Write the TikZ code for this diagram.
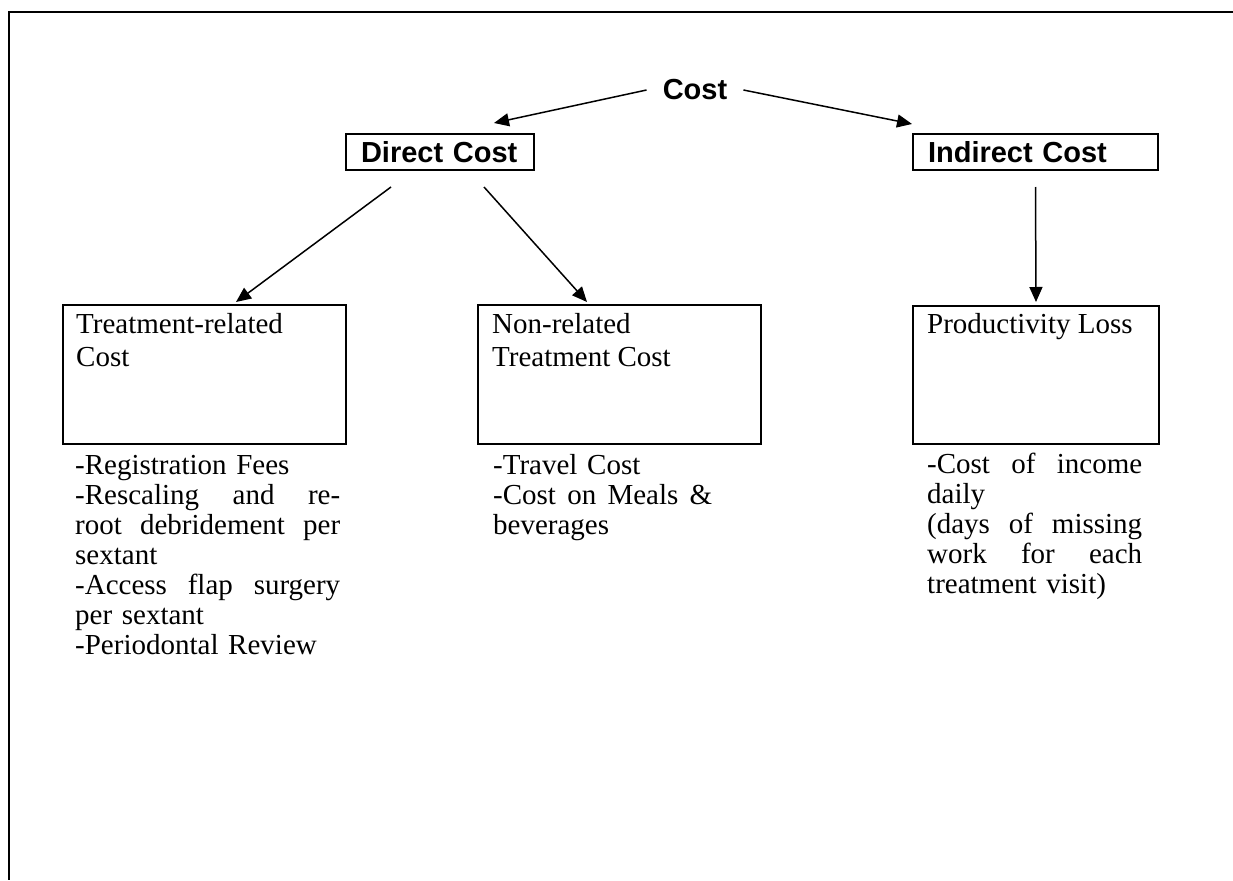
\documentclass[tikz,border=0pt]{standalone}
\usepackage{fontspec}
\setmainfont{Liberation Serif}
\setsansfont{Liberation Sans}
\usetikzlibrary{arrows.meta,calc,positioning}

\tikzset{
  headbox/.style={draw, line width=2pt, minimum height=36pt, inner xsep=15pt, inner ysep=0pt,
    anchor=north west, align=left, font=\sffamily\bfseries\fontsize{29}{33}\selectfont},
  catbox/.style={draw, line width=2pt, anchor=north west, inner sep=0pt},
  boxtext/.style={anchor=north west, inner sep=0pt, align=left, font=\fontsize{29}{33}\selectfont},
  listtext/.style={anchor=north west, inner sep=0pt, align=left, font=\fontsize{29}{30}\selectfont},
  costarrow/.style={line width=1.5pt, -{Triangle[length=15pt,width=13pt]}}
}

\begin{document}
\begin{tikzpicture}[x=1pt,y=-1pt]
  \useasboundingbox (0,0) rectangle (1233,880);

  % frame (top and left side only)
  \draw[line width=2pt] (1233,12) -- (9,12) -- (9,880);

  % top level
  \node[font=\sffamily\bfseries\fontsize{29}{33}\selectfont, inner xsep=16pt] (cost) at (695,90) {Cost};

  % second level
  \node[headbox, text width=158pt] (direct) at (345,133) {Direct Cost};
  \node[headbox, text width=215pt] (indirect) at (912,133) {Indirect Cost};

  % third level boxes
  \node[catbox, minimum width=283pt, minimum height=139pt] (treat) at (62,304) {};
  \node[catbox, minimum width=283pt, minimum height=139pt] (nonrel) at (477,304) {};
  \node[catbox, minimum width=246pt, minimum height=138pt] (prod) at (912,305) {};

  % text inside the boxes
  \node[boxtext] (treattext) at ($(treat.north west)+(14,6)$) {\strut Treatment-related\\Cost};
  \node[boxtext] (nonreltext) at ($(nonrel.north west)+(15,6)$) {\strut Non-related\\Treatment Cost};
  \node[boxtext] (prodtext) at ($(prod.north west)+(15,5)$) {\strut Productivity Loss};

  % items below the boxes
  \node[listtext, text width=265pt] (treatlist) at ($(treat.south west)+(13,8)$) {\strut-Registration Fees\\
    -Rescaling \hfill and \hfill re-\\
    root \hfill debridement \hfill per\\
    sextant\\
    -Access \hfill flap \hfill surgery\\
    per sextant\\
    -Periodontal Review};
  \node[listtext, text width=219pt] (nonrellist) at ($(nonrel.south west)+(16,8)$) {\strut-Travel Cost\\
    -Cost \hfill on \hfill Meals \hfill \&\\
    beverages};
  \node[listtext, text width=215pt] (prodlist) at ($(prod.south west)+(15,7)$) {\strut-Cost \hfill of \hfill income\\
    daily\\
    (days \hfill of \hfill missing\\
    work \hfill for \hfill each\\
    treatment visit)};

  % arrows
  \draw[costarrow] (cost.west) -- ($(direct.north east)+(-41,-10)$);
  \draw[costarrow] (cost.east) -- ($(indirect.north west)+(0,-9)$);
  \draw[costarrow] ($(direct.south)+(-49,16)$) -- ($(treat.north)+(31.5,-2)$);
  \draw[costarrow] ($(direct.south)+(44,16)$) -- ($(nonrel.north)+(-32.5,-2)$);
  \draw[costarrow] ($(indirect.south)+(0,16)$) -- ($(prod.north)+(0,-3)$);
\end{tikzpicture}
\end{document}
